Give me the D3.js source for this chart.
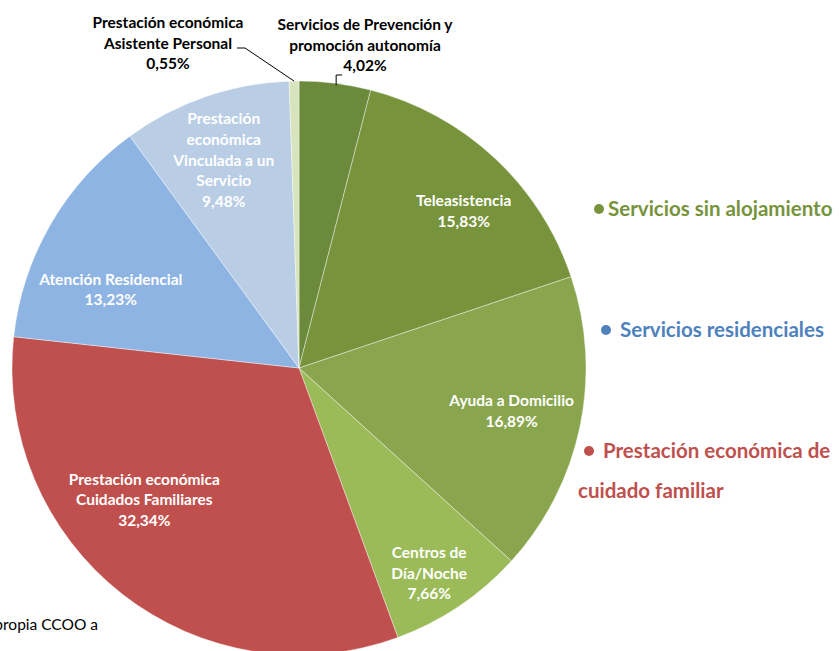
<!DOCTYPE html>
<html>
<head>
<meta charset="utf-8">
<script src="https://cdn.jsdelivr.net/npm/d3@7"></script>
<style>
  body { margin: 0; background: #fff; }
  svg { display: block; font-family: Lato, "Open Sans", sans-serif; }
</style>
</head>
<body>
<svg id="chart" width="839" height="651"></svg>
<script>
// Data
var categories = [
    ["Servicios de Prevención y", "promoción autonomía"],
    ["Teleasistencia"],
    ["Ayuda a Domicilio"],
    ["Centros de", "Día/Noche"],
    ["Prestación económica", "Cuidados  Familiares"],
    ["Atención Residencial"],
    ["Prestación", "económica", "Vinculada a un", "Servicio"],
    ["Prestación económica", "Asistente Personal"]
];
var values = [4.02, 15.83, 16.89, 7.66, 32.34, 13.23, 9.48, 0.55];
var sliceColors = ["#6b8a3c", "#77933c", "#89a54e", "#9bbb59", "#c0504d", "#8eb4e3", "#b9cde5", "#d7e4bd"];

var legendGroups = [["Servicios sin alojamiento"], ["Servicios residenciales"], ["Prestación económica de", "cuidado familiar"]];
var legendColors = ["#77933c", "#4f81bd", "#c0504d"];

// SVG Variables
var svg = d3.select("#chart");
var cx = 299, cy = 368, radius = 287;
var lineH = 20.7;
var labelSize = "15.5px";

var pie = d3.pie().sort(null).value(function(d) { return d; });
var arcs = pie(values);
var arc = d3.arc().innerRadius(0).outerRadius(radius);
var labelArc = d3.arc().innerRadius(radius * 0.75).outerRadius(radius * 0.75);

var g = svg.append("g").attr("transform", "translate(" + cx + "," + cy + ")");

g.selectAll("path").data(arcs).enter().append("path")
    .attr("d", arc)
    .attr("fill", function(d, i) { return sliceColors[i]; })
    .attr("stroke", "#fff")
    .attr("stroke-width", 0.4);

// nudges for the inside labels (like excel moved them)
var nudge = [null, [18, 1], [2, -1], [10, 27], [-22, -37], [-2, 30], [-5, -4], null];

function fmt(v) { return d3.format(".2f")(v).replace(".", ",") + "%"; }

arcs.forEach(function(d, i) {
    if (!nudge[i]) return;
    var c = labelArc.centroid(d);
    var x = c[0] + nudge[i][0], y = c[1] + nudge[i][1];
    var lines = categories[i].concat([fmt(values[i])]);
    var t = g.append("text")
        .attr("text-anchor", "middle")
        .attr("font-size", labelSize)
        .attr("font-weight", "bold")
        .attr("fill", "#fff");
    lines.forEach(function(s, k) {
        t.append("tspan")
            .attr("x", x)
            .attr("y", y - (lines.length - 1) * lineH / 2 + k * lineH + 5)
            .text(s);
    });
});

// outside labels with leader lines
function outsideLabel(i, lx, ly, pts) {
    var lines = categories[i].concat([fmt(values[i])]);
    var t = svg.append("text")
        .attr("text-anchor", "middle")
        .attr("font-size", labelSize)
        .attr("font-weight", "bold")
        .attr("fill", "#000");
    lines.forEach(function(s, k) {
        t.append("tspan").attr("x", lx).attr("y", ly + k * lineH).text(s);
    });
    svg.append("path")
        .attr("d", d3.line()(pts))
        .attr("fill", "none")
        .attr("stroke", "#000")
        .attr("stroke-width", 1);
}

// edge points of the two thin slices
var a0 = (arcs[0].startAngle + arcs[0].endAngle) / 2;
var p0 = [cx + Math.sin(a0) * radius, cy - Math.cos(a0) * radius];
var a7 = (arcs[7].startAngle + arcs[7].endAngle) / 2;
var p7 = [cx + Math.sin(a7) * radius, cy - Math.cos(a7) * radius];

outsideLabel(0, 365, 30, [[p0[0] + 1, p0[1] + 2], [p0[0] + 1, 75], [p0[0] + 7, 75]]);
outsideLabel(7, 168, 28, [[237, 48], [245, 48], [p7[0], p7[1]]]);

// legend on the right
var legendY = [209, 330, 451];
var legendX = [599, 606, 589];
var textGap = [9, 14, 14];
legendGroups.forEach(function(lines, i) {
    svg.append("circle")
        .attr("cx", legendX[i])
        .attr("cy", legendY[i])
        .attr("r", 5)
        .attr("fill", legendColors[i]);
    var t = svg.append("text")
        .attr("font-size", "20.5px")
        .attr("font-weight", "bold")
        .attr("fill", legendColors[i]);
    lines.forEach(function(s, k) {
        t.append("tspan")
            .attr("x", k == 0 ? legendX[i] + textGap[i] : 578)
            .attr("y", legendY[i] + 7 + k * 40)
            .text(s);
    });
});

// source note, cut off at the left
svg.append("text")
    .attr("x", 98)
    .attr("y", 630)
    .attr("text-anchor", "end")
    .attr("font-size", "15.5px")
    .attr("fill", "#000")
    .text("propia CCOO a");
</script>
</body>
</html>
